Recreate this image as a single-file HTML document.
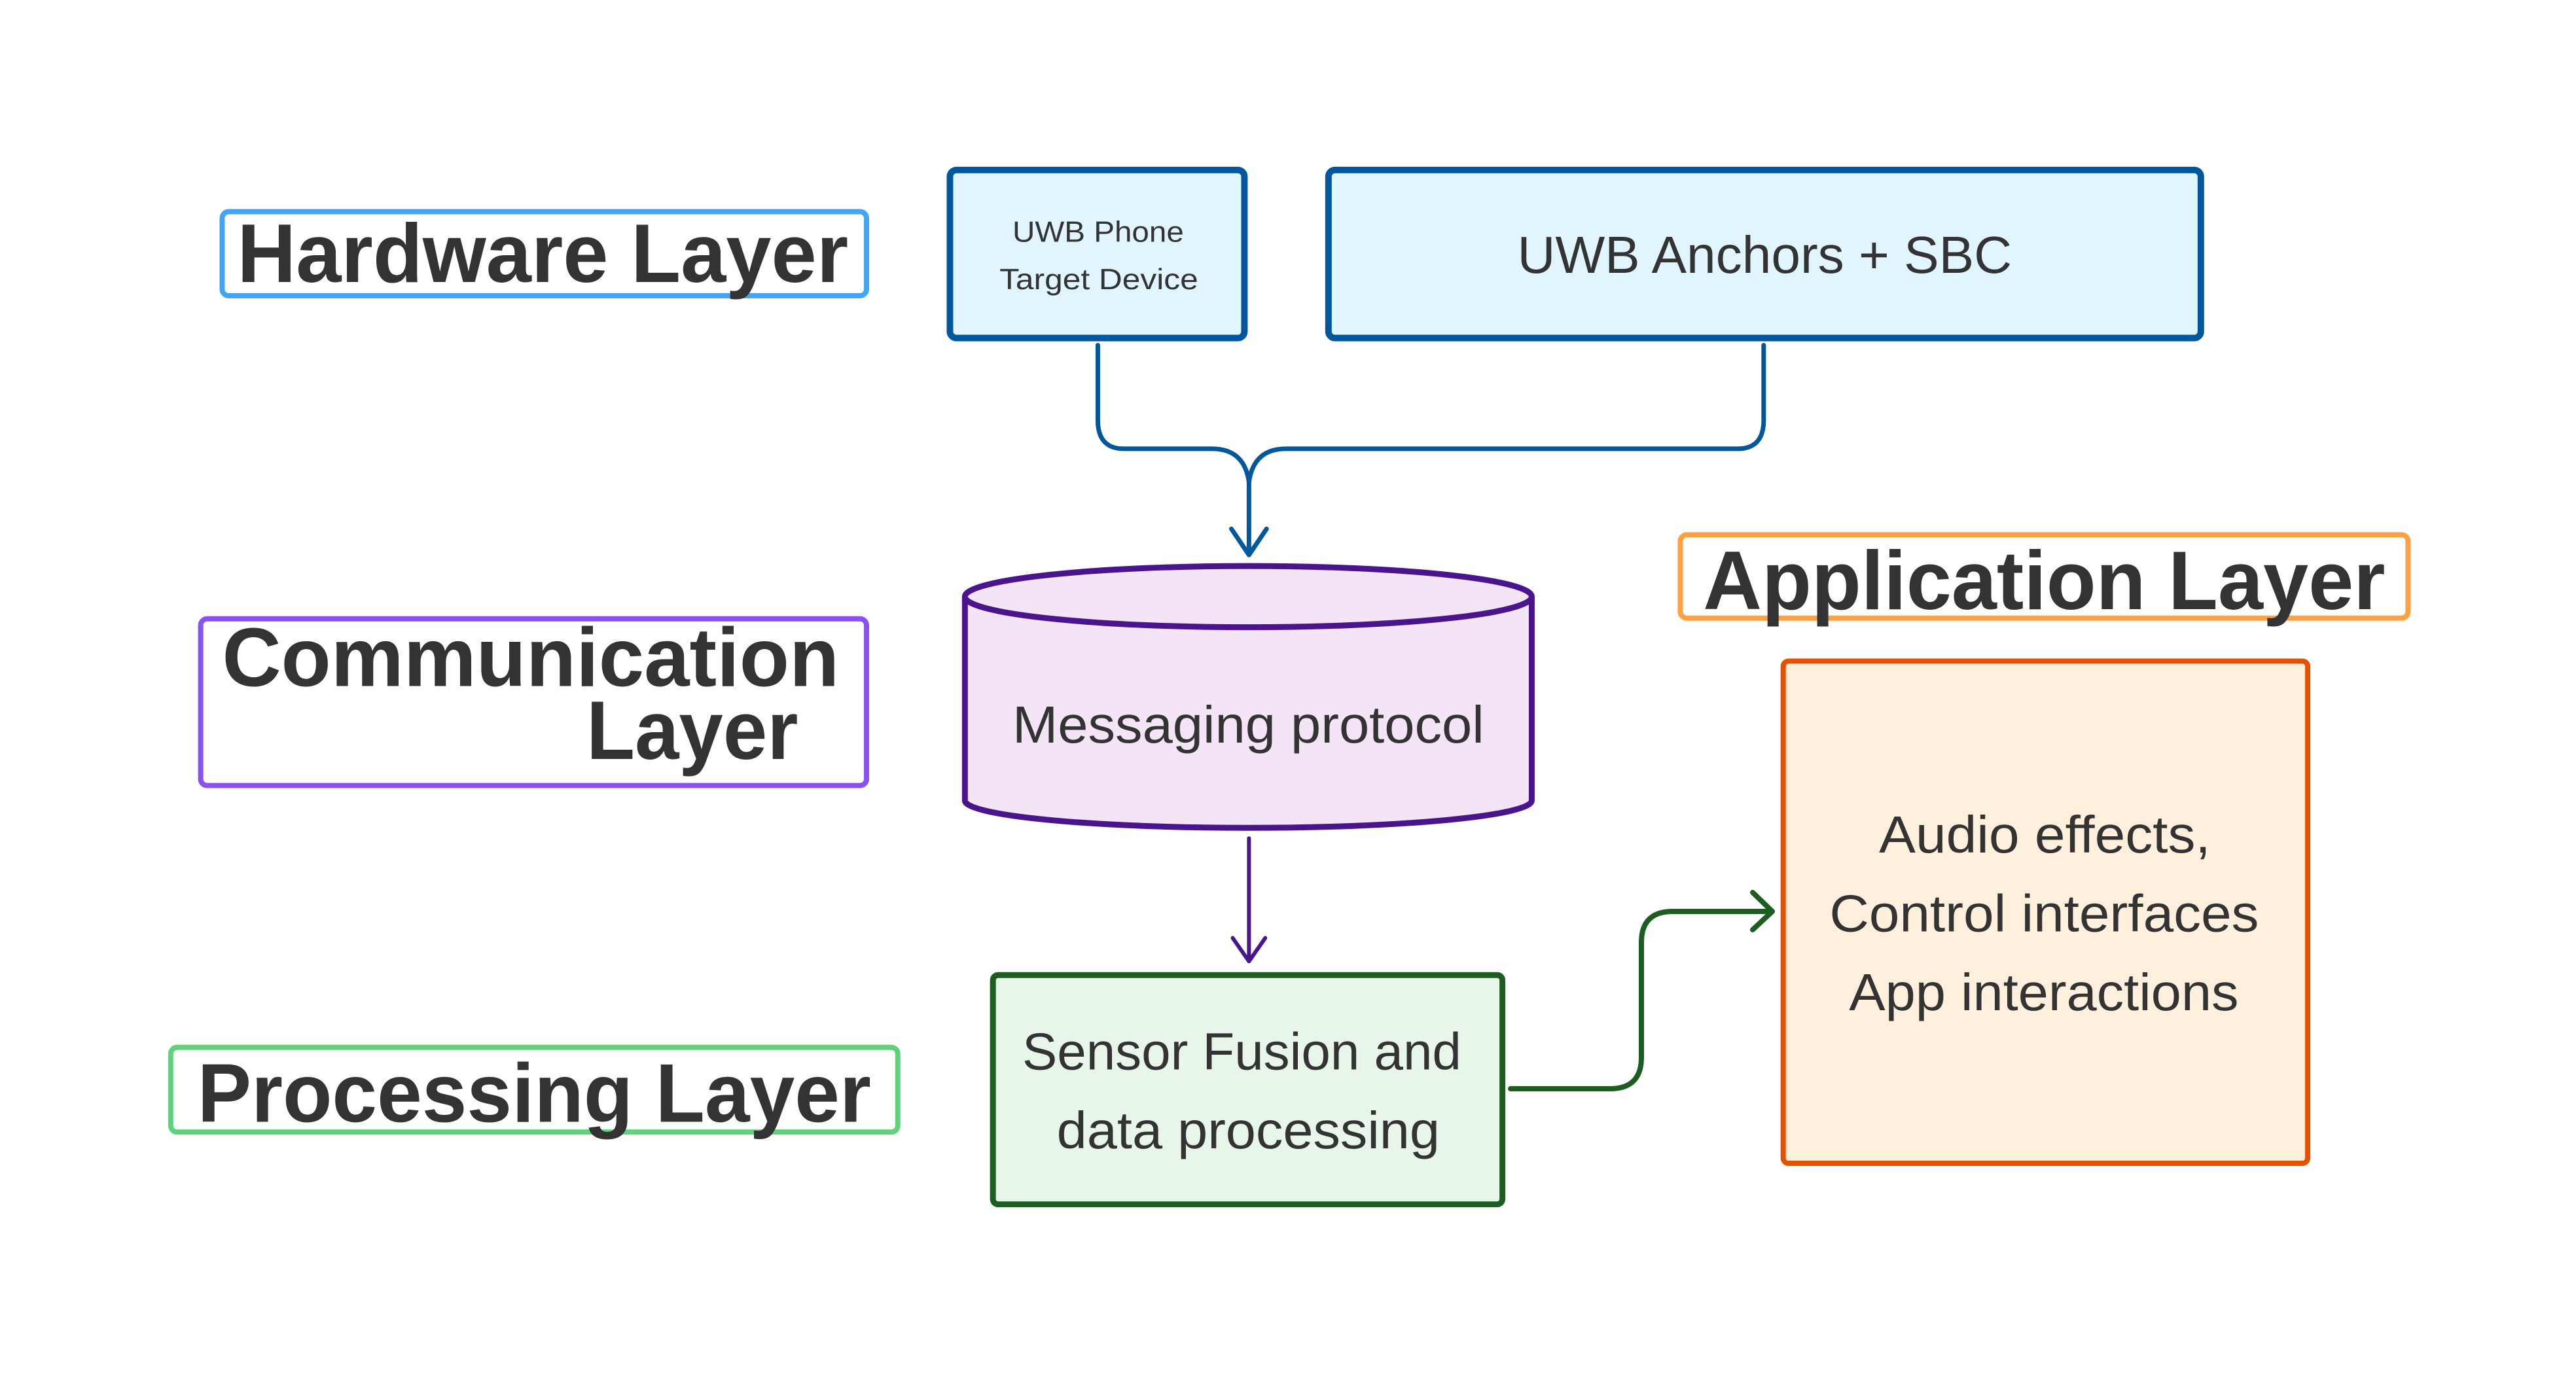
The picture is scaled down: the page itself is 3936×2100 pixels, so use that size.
<!DOCTYPE html>
<html><head><meta charset="utf-8"><style>html,body{margin:0;padding:0;background:#fff}svg{display:block}</style></head>
<body>
<svg width="3936" height="2100" viewBox="0 0 3936 2100" xmlns="http://www.w3.org/2000/svg" font-family="Liberation Sans, sans-serif">
<rect width="3936" height="2100" fill="#fff"/>
<g transform="scale(0.9955)">
<!-- labels -->
<g fill="none" stroke-width="8">
<rect x="341" y="325" width="989" height="129" rx="10" stroke="#42a5f5"/>
<rect x="308" y="950" width="1022" height="256" rx="10" stroke="#8b4ff6"/>
<rect x="262" y="1608" width="1116" height="130" rx="10" stroke="#5fd37a"/>
<rect x="2579" y="821" width="1117" height="128" rx="10" stroke="#ffa043"/>
</g>
<g fill="#333" font-weight="bold" font-size="128">
<text x="364" y="433" textLength="938" lengthAdjust="spacingAndGlyphs">Hardware Layer</text>
<text x="341" y="1053" textLength="947" lengthAdjust="spacingAndGlyphs">Communication</text>
<text x="900" y="1165" textLength="325" lengthAdjust="spacingAndGlyphs">Layer</text>
<text x="303" y="1722" textLength="1034" lengthAdjust="spacingAndGlyphs">Processing Layer</text>
<text x="2614" y="935" textLength="1047" lengthAdjust="spacingAndGlyphs">Application Layer</text>
</g>
<!-- hardware boxes -->
<g stroke="#01579b" stroke-width="10" fill="#e1f5fe">
<rect x="1458" y="261" width="452" height="258" rx="10"/>
<rect x="2039" y="261" width="1339" height="258" rx="10"/>
</g>
<!-- connectors blue -->
<g fill="none" stroke="#01579b" stroke-width="7" stroke-linecap="round" stroke-linejoin="round">
<path d="M1685 530 V645 Q1685 689 1725 689 H1860 Q1910 689 1917 740 V850"/>
<path d="M2707 530 V645 Q2707 689 2667 689 H1974 Q1924 689 1917 740"/>
<path d="M1890 812 L1917 852 L1944 812"/>
</g>
<!-- cylinder -->
<path d="M1481 916 V1229 A435 42 0 0 0 2351 1229 V916" fill="#f3e5f5" stroke="#4a148c" stroke-width="9"/>
<ellipse cx="1916" cy="916" rx="435" ry="47" fill="#f3e5f5" stroke="#4a148c" stroke-width="9"/>
<g fill="none" stroke="#4a148c" stroke-width="6" stroke-linecap="round" stroke-linejoin="round">
<path d="M1917 1287 V1474"/>
<path d="M1892 1440 L1917 1476 L1942 1440"/>
</g>
<!-- processing -->
<rect x="1524" y="1497" width="782" height="352" rx="8" fill="#e8f5e9" stroke="#1b5e20" stroke-width="9"/>
<!-- application -->
<rect x="2737" y="1015" width="805" height="771" rx="8" fill="#fff0dd" stroke="#e65100" stroke-width="8"/>
<!-- texts -->
<g fill="#333">
<text x="1554" y="371" font-size="45" textLength="263" lengthAdjust="spacingAndGlyphs">UWB Phone</text>
<text x="1534" y="444" font-size="45" textLength="305" lengthAdjust="spacingAndGlyphs">Target Device</text>
<g font-size="80">
<text x="2329" y="419" textLength="759" lengthAdjust="spacingAndGlyphs">UWB Anchors + SBC</text>
<text x="1554" y="1140" textLength="724" lengthAdjust="spacingAndGlyphs">Messaging protocol</text>
<text x="1569" y="1642" textLength="674" lengthAdjust="spacingAndGlyphs">Sensor Fusion and</text>
<text x="1622" y="1763" textLength="588" lengthAdjust="spacingAndGlyphs">data processing</text>
<text x="2884" y="1309" textLength="509" lengthAdjust="spacingAndGlyphs">Audio effects,</text>
<text x="2808" y="1430" textLength="659" lengthAdjust="spacingAndGlyphs">Control interfaces</text>
<text x="2838" y="1551" textLength="598" lengthAdjust="spacingAndGlyphs">App interactions</text>
</g>
</g>
</g>
<g fill="none" stroke="#1b5e20" stroke-width="8" stroke-linecap="round" stroke-linejoin="round">
<path d="M2308 1664 H2460 Q2508 1664 2508 1616 V1440 Q2508 1393 2556 1393 H2706"/>
<path d="M2678 1364 L2708 1393 L2678 1421"/>
</g>
</svg>
</body></html>
